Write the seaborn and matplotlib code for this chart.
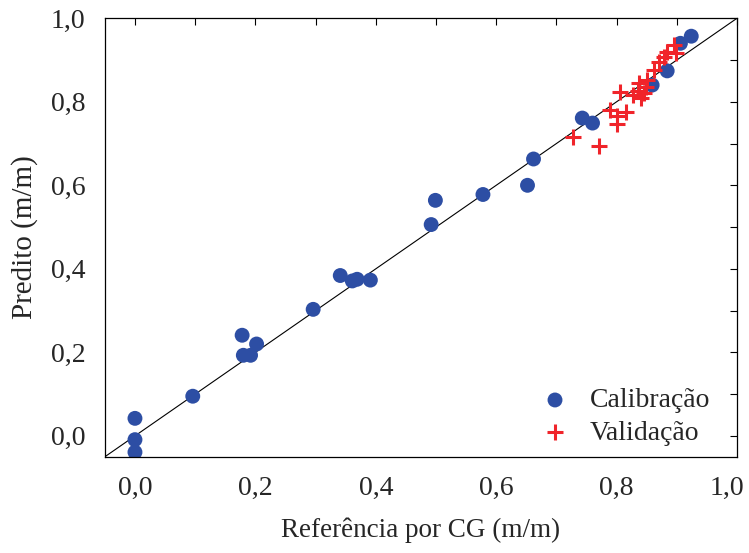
import matplotlib
matplotlib.use("Agg")
import matplotlib.pyplot as plt
import matplotlib.transforms as mtransforms
import seaborn as sns
import pandas as pd
import numpy as np
from matplotlib.ticker import MultipleLocator, FuncFormatter

# Calibration data
cal_ref = [0.0, 0.0, 0.0, 0.096, 0.178, 0.180, 0.192, 0.202, 0.296, 0.341,
           0.361, 0.369, 0.391, 0.492, 0.499, 0.578, 0.652, 0.662, 0.743, 0.760,
           0.859, 0.884, 0.906, 0.924]
cal_pred = [0.042, -0.009, -0.039, 0.095, 0.241, 0.193, 0.193, 0.220, 0.303, 0.384,
            0.371, 0.375, 0.373, 0.506, 0.564, 0.578, 0.600, 0.663, 0.761, 0.749,
            0.840, 0.874, 0.940, 0.957]

# Validation data
val_ref = [0.728, 0.770, 0.789, 0.801, 0.801, 0.815, 0.806, 0.828, 0.840, 0.837,
           0.848, 0.851, 0.862, 0.870, 0.878, 0.884, 0.895, 0.898, 0.835, 0.845]
val_pred = [0.715, 0.695, 0.780, 0.766, 0.746, 0.776, 0.823, 0.816, 0.808, 0.844,
            0.836, 0.852, 0.876, 0.896, 0.908, 0.920, 0.936, 0.916, 0.826, 0.822]

series_names = ["Calibração", "Validação"]
x_label = "Referência por CG (m/m)"
y_label = "Predito (m/m)"

sns.set_style("white")
plt.rcParams['font.family'] = ['Liberation Serif', 'DejaVu Serif']

fig = plt.figure(figsize=(7.49, 5.53), dpi=100)
ax = fig.add_axes([0.140, 0.174, 0.844, 0.793])

# 1:1 line
ax.plot([-0.05, 1.0], [-0.05, 1.0], color='black', lw=0.8, zorder=1)

df_cal = pd.DataFrame({"x": cal_ref, "y": cal_pred})
df_val = pd.DataFrame({"x": val_ref, "y": val_pred})

sns.scatterplot(data=df_cal, x="x", y="y", ax=ax, marker='o', s=115,
                color='#2d4ea4', edgecolor='none', label=series_names[0], zorder=2)
sns.scatterplot(data=df_val, x="x", y="y", ax=ax, marker='+', s=130,
                color='#f0242a', linewidth=2.2, label=series_names[1], zorder=3)

ax.set_xlim(-0.05, 1.0)
ax.set_ylim(-0.05, 1.0)

ax.xaxis.set_major_locator(MultipleLocator(0.2))
ax.yaxis.set_major_locator(MultipleLocator(0.2))
ax.xaxis.set_minor_locator(MultipleLocator(0.1))
ax.yaxis.set_minor_locator(MultipleLocator(0.1))
fmt = FuncFormatter(lambda v, p: f"{v:.1f}".replace('.', ','))
ax.xaxis.set_major_formatter(fmt)
ax.yaxis.set_major_formatter(fmt)

ax.tick_params(which='both', direction='in', top=True, right=True,
               length=5, width=0.8, color='black')
ax.tick_params(which='major', labelsize=20)
ax.tick_params(axis='x', which='major', pad=14)
ax.tick_params(axis='y', which='major', pad=14)

for sp in ax.spines.values():
    sp.set_color('black')
    sp.set_linewidth(0.9)

ax.set_xlabel(x_label, fontsize=19.5, labelpad=12)
ax.set_ylabel(y_label, fontsize=21, labelpad=9)

leg = ax.legend(loc='lower right', frameon=False, fontsize=20,
                handlelength=1.0, handletextpad=0.75, borderaxespad=0.0,
                labelspacing=0.25, bbox_to_anchor=(0.975, 0.0))

# keep the last x tick label inside the figure, as in the reference
fig.canvas.draw()
for lbl in ax.get_xticklabels():
    if lbl.get_text() == "1,0":
        lbl.set_transform(lbl.get_transform() +
                          mtransforms.ScaledTranslation(-0.10, 0, fig.dpi_scale_trans))

fig.savefig("out.png", dpi=100)
